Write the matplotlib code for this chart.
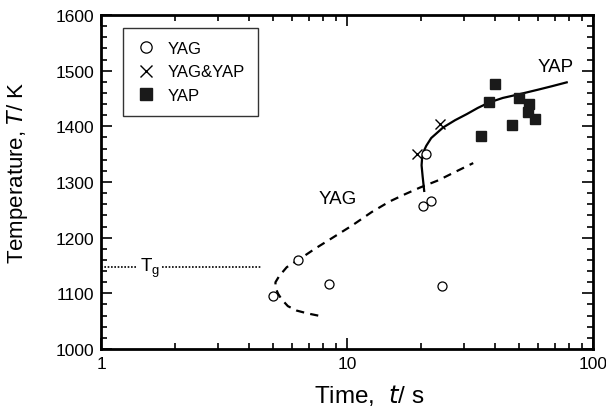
import matplotlib
matplotlib.use("Agg")
import matplotlib.pyplot as plt
from matplotlib.ticker import FixedLocator, NullFormatter, MultipleLocator

plt.rcParams['font.family'] = ['Liberation Sans', 'DejaVu Sans']

# Data
yag_t = [5.0, 6.35, 8.45, 20.4, 21.9, 20.9, 24.4]
yag_T = [1095, 1160, 1117, 1257, 1266, 1351, 1113]

mix_t = [19.2, 23.9]
mix_T = [1351, 1404]

yap_t = [40.0, 37.9, 34.9, 46.9, 49.9, 54.8, 54.2, 58.1]
yap_T = [1476, 1444, 1383, 1403, 1450, 1440, 1425, 1414]

# YAP solid curve
yap_curve_t = [20.6, 20.3, 20.1, 20.2, 20.5, 21.0, 22.0, 24.6, 27.5, 30.7, 34.0, 37.9, 43.0, 50.5, 60.0, 68.0, 78.2]
yap_curve_T = [1284, 1310, 1330, 1343, 1355, 1365, 1379, 1398, 1411, 1422, 1433, 1443, 1451, 1458, 1466, 1472, 1479]

# YAG dashed curve
yag_curve_t = [7.64, 6.9, 6.25, 5.75, 5.43, 5.25, 5.12, 5.12, 5.3, 5.69, 6.44, 7.4, 8.53, 10.5, 12.6, 14.9, 17.2, 19.8, 23.5, 27.5, 32.6]
yag_curve_T = [1060, 1064, 1069, 1077, 1089, 1099, 1110, 1120, 1131, 1147, 1162, 1180, 1197, 1222, 1246, 1265, 1278, 1290, 1303, 1318, 1334]

# Tg line
tg_T = 1147
tg_seg1 = [1.0, 1.40]
tg_seg2 = [1.77, 4.5]

fig = plt.figure(figsize=(6.06, 4.10), dpi=100)
ax = fig.add_axes([0.1667, 0.1463, 0.8118, 0.8147])

ax.set_xscale('log')
ax.set_xlim(1, 100)
ax.set_ylim(1000, 1600)

ax.plot(yag_curve_t, yag_curve_T, color='black', lw=1.6, ls=(0, (3.7, 2.8)))
ax.plot(yap_curve_t, yap_curve_T, color='black', lw=1.6)
ax.plot(tg_seg1, [tg_T, tg_T], color='black', lw=1.2, ls=(0, (1, 1)))
ax.plot(tg_seg2, [tg_T, tg_T], color='black', lw=1.2, ls=(0, (1, 1)))

ax.plot(yag_t, yag_T, ls='none', marker='o', ms=6.5, mfc='white', mec='black', mew=0.9, label='YAG')
ax.plot(mix_t, mix_T, ls='none', marker='x', ms=7, mec='black', mew=1.0, label='YAG&YAP')
ax.plot(yap_t, yap_T, ls='none', marker='s', ms=7.4, mfc='#1a1a1a', mec='#1a1a1a', label='YAP')

ax.text(1.58, tg_T, r'T$_\mathregular{g}$', fontsize=13.5, ha='center', va='center')
ax.text(9.2, 1270, 'YAG', fontsize=13.5, ha='center', va='center')
ax.text(70.5, 1507, 'YAP', fontsize=13.5, ha='center', va='center')

leg = ax.legend(loc='upper left', bbox_to_anchor=(0.045, 0.962), fontsize=12, frameon=True,
                fancybox=False, edgecolor='black', handlelength=1.2, handletextpad=0.65,
                borderpad=0.8, labelspacing=0.5, markerscale=1.25, borderaxespad=0)
leg.get_frame().set_linewidth(1.0)

ax.set_xticks([1, 10, 100])
ax.set_xticklabels(['1', '10', '100'])
ax.xaxis.set_minor_locator(FixedLocator([m * d for d in (1, 10) for m in range(2, 10)]))
ax.xaxis.set_minor_formatter(NullFormatter())
ax.yaxis.set_major_locator(MultipleLocator(100))
ax.yaxis.set_minor_locator(MultipleLocator(20))

ax.tick_params(which='both', direction='in', top=True, right=True, labelsize=12.5, width=1.2, pad=5)
ax.tick_params(which='major', length=8)
ax.tick_params(which='minor', length=4.5)
for s in ax.spines.values():
    s.set_linewidth(2)

ax.set_xlabel(r'Time,  $\it{t}$/ s', fontsize=17.5)
ax.set_ylabel(r'Temperature, $\it{T}$/ K', fontsize=16)
ax.xaxis.set_label_coords(0.545, -0.098)
ax.yaxis.set_label_coords(-0.145, 0.531)

fig.savefig('out.png', dpi=100)
